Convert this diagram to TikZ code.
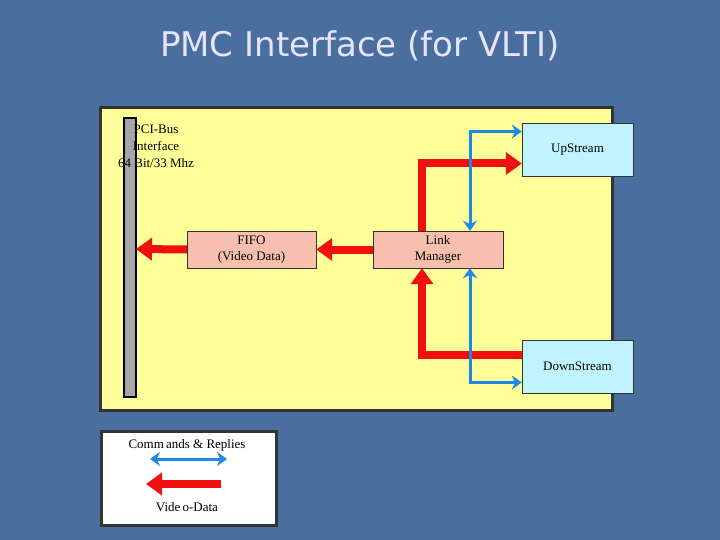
\documentclass[tikz,border=0pt]{standalone}
\usepackage{fontspec}
\setmainfont{Liberation Serif}
\newfontfamily\titlefont{DejaVu Sans}
\usetikzlibrary{arrows.meta,positioning}
\definecolor{slide}{HTML}{4A6E9E}
\definecolor{panel}{HTML}{FFFF99}
\definecolor{frame}{HTML}{333333}
\definecolor{salmon}{HTML}{F8BFAF}
\definecolor{cyanbox}{HTML}{BFF4FF}
\definecolor{vred}{HTML}{F01010}
\definecolor{cblue}{HTML}{1E88E5}
\tikzset{
  blk/.style={draw=frame,fill=salmon,align=center,inner sep=0pt,font=\fontsize{13}{16}\selectfont},
  ext/.style={draw=frame,fill=cyanbox,align=center,inner sep=0pt,font=\fontsize{13}{16}\selectfont},
  data/.style={vred,line width=8pt,-{Triangle[length=16pt,width=22pt]}},
  cmd/.style={cblue,line width=3pt,{Stealth[length=10pt,width=14pt]}-{Stealth[length=10pt,width=14pt]}}
}
\begin{document}
\begin{tikzpicture}[x=1pt,y=-1pt]
    \fill[slide] (0,0) rectangle (720,540);
    \useasboundingbox (0,0) rectangle (720,540);

    \node[font=\titlefont\fontsize{34}{40}\selectfont,text=white!90!blue] (title) at (360,46) {PMC Interface (for VLTI)};

    % board
    \draw[frame,line width=3pt,fill=panel] (100,108) rectangle (612,410);
    \draw[black,line width=1.5pt,fill=gray!70] (124,118) rectangle (136,397);
    \coordinate (bus) at (136,249);
    \node[align=center,font=\fontsize{13}{17}\selectfont] (pci) at (156,146) {PCI-Bus\\Interface\\64 Bit/33 Mhz};

    \node[blk,minimum width=129pt,minimum height=37pt] (fifo) at (251.5,249.5) {FIFO\\(Video Data)};
    \node[blk,minimum width=130pt,minimum height=37pt] (link) at (438,249.5) {Link\\Manager};
    \node[ext,minimum width=111pt,minimum height=53pt] (up) at (577.5,149.5) {UpStream};
    \node[ext,minimum width=111pt,minimum height=53pt] (down) at (577.5,366.5) {DownStream};

    % video data
    \draw[data] (fifo.west) -- (bus);
    \draw[data] (link.west) -- (fifo.east);
    \draw[data] ([xshift=-16pt]link.north) |- ([yshift=-14pt]up.west);
    \draw[data] ([yshift=12pt]down.west) -| ([xshift=-16pt]link.south);

    % commands
    \draw[cmd] ([xshift=32pt]link.north) |- ([yshift=18pt]up.west);
    \draw[cmd] ([xshift=32pt]link.south) |- ([yshift=-16pt]down.west);

    % legend
    \draw[frame,line width=3pt,fill=white] (101,431) rectangle (276,525);
    \node[font=\fontsize{13}{16}\selectfont] (lcmd) at (187,445) {Comm\,ands \& Replies};
    \node[font=\fontsize{13}{16}\selectfont] (ldata) at (187,507) {Vide\,o-Data};
    \coordinate (c1) at (150,459);
    \coordinate (c2) at (227,459);
    \coordinate (d1) at (221,484);
    \coordinate (d2) at (146,484);
    \draw[cmd] (c1) -- (c2);
    \draw[data] (d1) -- (d2);
\end{tikzpicture}
\end{document}
